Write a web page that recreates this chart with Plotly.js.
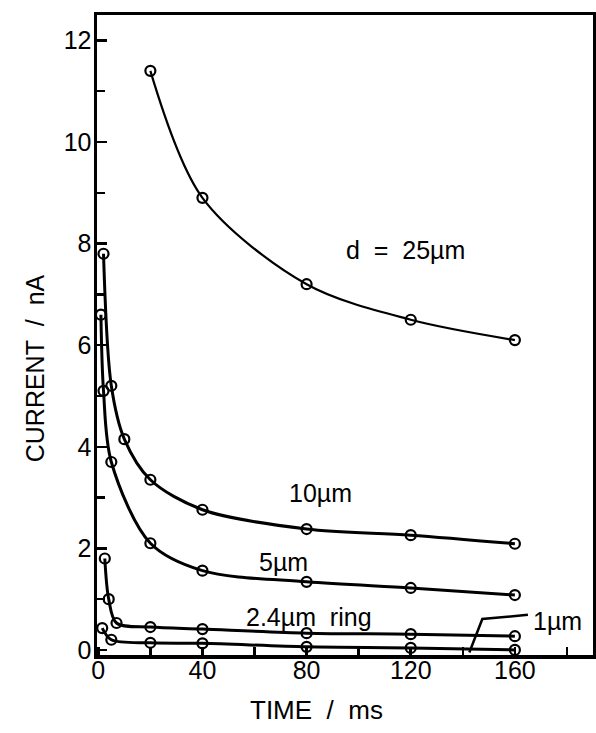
<!DOCTYPE html>
<html>
<head>
<meta charset="utf-8">
<script src="https://cdn.plot.ly/plotly-3.0.1.min.js"></script>
<style>html,body{margin:0;padding:0;background:#fff;}#chart{width:596px;height:733px;}</style>
</head>
<body>
<div id="chart"></div>
<script>
// Data (time in ms, current in nA)
const time25 = [20, 40, 80, 120, 160];
const current25 = [11.4, 8.9, 7.2, 6.5, 6.1];

const time10 = [2, 5, 10, 20, 40, 80, 120, 160];
const current10 = [7.8, 5.2, 4.15, 3.35, 2.76, 2.38, 2.26, 2.09];

const time5 = [1, 2, 5, 20, 40, 80, 120, 160];
const current5 = [6.6, 5.1, 3.7, 2.1, 1.56, 1.34, 1.22, 1.08];

const timeRing = [2.5, 4, 7, 20, 40, 80, 120, 160];
const currentRing = [1.8, 1.0, 0.53, 0.45, 0.41, 0.33, 0.31, 0.27];

const time1 = [1.5, 5, 20, 40, 80, 120, 160];
const current1 = [0.43, 0.2, 0.14, 0.13, 0.06, 0.04, 0.0];

const xTickVals = [0, 40, 80, 120, 160];
const yTickVals = [0, 2, 4, 6, 8, 10, 12];

const labels = [
  {text: 'd\u00a0\u00a0=\u00a0\u00a025\u00b5m', x: 118, y: 7.87},
  {text: '10\u00b5m', x: 85.5, y: 3.09},
  {text: '5\u00b5m', x: 71, y: 1.73},
  {text: '2.4\u00b5m\u00a0\u00a0ring', x: 81, y: 0.65},
  {text: '1\u00b5m', x: 176.5, y: 0.57}
];
const leaderX = [165, 147.5, 142.5];
const leaderY = [0.69, 0.61, -0.05];

function series(x, y, w) {
  return {
    x: x, y: y, type: 'scatter', mode: 'lines+markers',
    line: {color: '#000', width: w, shape: 'spline', smoothing: 0.9},
    marker: {symbol: 'circle-open', size: 10, color: '#000', line: {width: 2.2, color: '#000'}},
    hoverinfo: 'skip', showlegend: false, cliponaxis: false
  };
}

const traces = [
  series(time25, current25, 2.2),
  series(time10, current10, 3),
  series(time5, current5, 3),
  series(timeRing, currentRing, 3),
  series(time1, current1, 3)
];

const fontFam = '"Liberation Sans", Arial, sans-serif';

const layout = {
  width: 596, height: 733,
  margin: {l: 97, r: 3, t: 15, b: 78},
  paper_bgcolor: '#fff', plot_bgcolor: '#fff',
  font: {family: fontFam, color: '#000', size: 24},
  xaxis: {
    range: [-0.5, 190], showgrid: false, zeroline: false,
    showline: true, linewidth: 3.5, linecolor: '#000', mirror: true,
    tickvals: xTickVals, ticks: 'inside', ticklen: 8, tickwidth: 2.5, tickcolor: '#000',
    minor: {tickvals: [20, 60, 100, 140, 180], ticks: 'inside', ticklen: 8, tickwidth: 2.5, tickcolor: '#000'},
    tickfont: {size: 25, family: fontFam},
    ticklabelstandoff: -10
  },
  yaxis: {
    range: [-0.1, 12.5], showgrid: false, zeroline: false,
    showline: true, linewidth: 3.5, linecolor: '#000', mirror: true,
    tickvals: yTickVals, ticks: 'inside', ticklen: 10, tickwidth: 2.5, tickcolor: '#000',
    minor: {dtick: 1, ticks: 'inside', ticklen: 8, tickwidth: 2.5, tickcolor: '#000'},
    tickfont: {size: 25, family: fontFam},
    ticklabelstandoff: -3
  },
  annotations: labels.map(l => ({
    text: l.text, x: l.x, y: l.y, xref: 'x', yref: 'y', showarrow: false,
    font: {size: 25, family: fontFam, color: '#000'}
  })).concat([
    {text: 'TIME\u00a0\u00a0/\u00a0\u00a0ms', xref: 'paper', yref: 'paper', x: 0.4435, y: -0.086,
     xanchor: 'center', yanchor: 'middle', showarrow: false, font: {size: 26, family: fontFam, color: '#000'}},
    {text: 'CURRENT\u00a0\u00a0/\u00a0\u00a0nA', xref: 'paper', yref: 'paper', x: -0.125, y: 0.448,
     xanchor: 'center', yanchor: 'middle', textangle: -90, showarrow: false, font: {size: 25, family: fontFam, color: '#000'}}
  ]),
  shapes: [{
    type: 'path', xref: 'x', yref: 'y',
    path: 'M ' + leaderX.map((v, i) => v + ',' + leaderY[i]).join(' L '),
    line: {color: '#000', width: 2.5}
  }]
};

Plotly.newPlot('chart', traces, layout, {displayModeBar: false, staticPlot: true});
</script>
</body>
</html>
